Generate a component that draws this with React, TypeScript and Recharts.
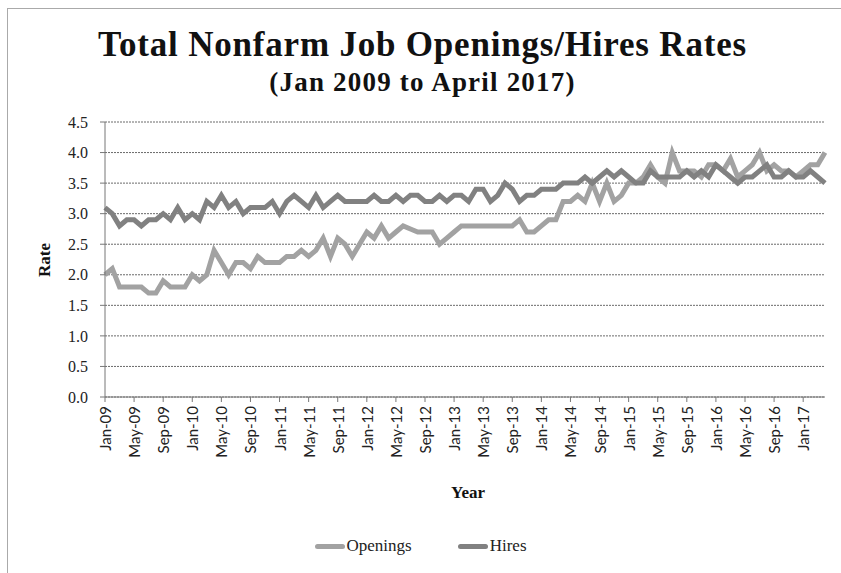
import React from "react";
import { LineChart, Line, XAxis, YAxis, CartesianGrid } from "recharts";

const MONTHS = ["Jan", "Feb", "Mar", "Apr", "May", "Jun", "Jul", "Aug", "Sep", "Oct", "Nov", "Dec"];
const FIRST_YEAR = 2009;

// monthly rates, Jan 2009 .. Apr 2017
const openings = [
  2.0, 2.1, 1.8, 1.8, 1.8, 1.8, 1.7, 1.7, 1.9, 1.8, 1.8, 1.8,
  2.0, 1.9, 2.0, 2.4, 2.2, 2.0, 2.2, 2.2, 2.1, 2.3, 2.2, 2.2,
  2.2, 2.3, 2.3, 2.4, 2.3, 2.4, 2.6, 2.3, 2.6, 2.5, 2.3, 2.5,
  2.7, 2.6, 2.8, 2.6, 2.7, 2.8, 2.75, 2.7, 2.7, 2.7, 2.5, 2.6,
  2.7, 2.8, 2.8, 2.8, 2.8, 2.8, 2.8, 2.8, 2.8, 2.9, 2.7, 2.7,
  2.8, 2.9, 2.9, 3.2, 3.2, 3.3, 3.2, 3.5, 3.2, 3.5, 3.2, 3.3,
  3.5, 3.5, 3.6, 3.8, 3.6, 3.5, 4.0, 3.7, 3.7, 3.7, 3.6, 3.8,
  3.8, 3.7, 3.9, 3.6, 3.7, 3.8, 4.0, 3.7, 3.8, 3.7, 3.7, 3.6,
  3.7, 3.8, 3.8, 4.0,
];

const hires = [
  3.1, 3.0, 2.8, 2.9, 2.9, 2.8, 2.9, 2.9, 3.0, 2.9, 3.1, 2.9,
  3.0, 2.9, 3.2, 3.1, 3.3, 3.1, 3.2, 3.0, 3.1, 3.1, 3.1, 3.2,
  3.0, 3.2, 3.3, 3.2, 3.1, 3.3, 3.1, 3.2, 3.3, 3.2, 3.2, 3.2,
  3.2, 3.3, 3.2, 3.2, 3.3, 3.2, 3.3, 3.3, 3.2, 3.2, 3.3, 3.2,
  3.3, 3.3, 3.2, 3.4, 3.4, 3.2, 3.3, 3.5, 3.4, 3.2, 3.3, 3.3,
  3.4, 3.4, 3.4, 3.5, 3.5, 3.5, 3.6, 3.5, 3.6, 3.7, 3.6, 3.7,
  3.6, 3.5, 3.5, 3.7, 3.6, 3.6, 3.6, 3.6, 3.7, 3.6, 3.7, 3.6,
  3.8, 3.7, 3.6, 3.5, 3.6, 3.6, 3.7, 3.8, 3.6, 3.6, 3.7, 3.6,
  3.6, 3.7, 3.6, 3.5,
];

const yTicks = [0, 0.5, 1, 1.5, 2, 2.5, 3, 3.5, 4, 4.5];

const categories = openings.map((_, i) => {
  const yr = (FIRST_YEAR + Math.floor(i / 12)) % 100;
  return `${MONTHS[i % 12]}-${String(yr).padStart(2, "0")}`;
});

const data = categories.map((month, i) => ({
  month,
  Openings: openings[i],
  Hires: hires[i],
}));

const series = [
  { key: "Openings", color: "#a2a2a2" },
  { key: "Hires", color: "#818181" },
];

const serif = "'Liberation Serif', serif";

function MonthTick(props: any) {
  const { x, y, payload } = props;
  return (
    <text
      x={x}
      y={y}
      transform={`rotate(-90, ${x}, ${y})`}
      textAnchor="end"
      dominantBaseline="central"
      fontFamily="Lato, sans-serif"
      fontSize={15}
      fill="#222"
    >
      {payload.value}
    </text>
  );
}

export default function App() {
  return (
    <div style={{ position: "relative", width: 841, height: 573, background: "#fff", overflow: "hidden" }}>
      <style>{"body{margin:0}"}</style>
      <div style={{ position: "absolute", left: 7, top: 8, right: 0, bottom: 0, borderLeft: "1px solid #aaa", borderTop: "1px solid #aaa" }} />

      <div style={{ position: "absolute", top: 25, left: 0, width: 845, textAlign: "center", fontFamily: serif, fontWeight: "bold", fontSize: 35, letterSpacing: 0.8, color: "#111" }}>
        Total Nonfarm Job Openings/Hires Rates
      </div>
      <div style={{ position: "absolute", top: 67, left: 0, width: 845, textAlign: "center", fontFamily: serif, fontWeight: "bold", fontSize: 27, letterSpacing: 1.2, color: "#111" }}>
        (Jan 2009 to April 2017)
      </div>
      <div style={{ position: "absolute", left: 45, top: 260, transform: "translate(-50%, -50%) rotate(-90deg)", fontFamily: serif, fontWeight: "bold", fontSize: 17, color: "#111" }}>
        Rate
      </div>
      <div style={{ position: "absolute", left: 468, top: 493, transform: "translate(-50%, -50%)", fontFamily: serif, fontWeight: "bold", fontSize: 17, color: "#111" }}>
        Year
      </div>

      <div style={{ position: "absolute", left: 0, top: 0 }}>
        <LineChart width={841} height={573} data={data} margin={{ top: 122, right: 16, bottom: 106, left: 45 }}>
          <CartesianGrid vertical={false} stroke="#6a6a6a" strokeDasharray="2 1" />
          <XAxis
            dataKey="month"
            interval={3}
            tick={<MonthTick />}
            tickSize={5}
            tickMargin={4}
            stroke="#777"
            height={70}
          />
          <YAxis
            domain={[0, 4.5]}
            ticks={yTicks}
            tickFormatter={(v: number) => v.toFixed(1)}
            tick={{ fontFamily: serif, fontSize: 16, fill: "#222" }}
            tickSize={5}
            tickMargin={12}
            stroke="#777"
            width={60}
            interval={0}
          />
          {series.map((s) => (
            <Line key={s.key} type="linear" dataKey={s.key} stroke={s.color} strokeWidth={5} dot={false} isAnimationActive={false} />
          ))}
        </LineChart>
      </div>

      <div style={{ position: "absolute", top: 536, left: 0, width: 841, display: "flex", justifyContent: "center", alignItems: "center", gap: 46 }}>
        {series.map((s) => (
          <div key={s.key} style={{ display: "flex", alignItems: "center" }}>
            <span style={{ display: "inline-block", width: 30, height: 5, borderRadius: 3, background: s.color }} />
            <span style={{ fontFamily: serif, fontSize: 17, color: "#222", marginLeft: 2 }}>{s.key}</span>
          </div>
        ))}
      </div>
    </div>
  );
}
